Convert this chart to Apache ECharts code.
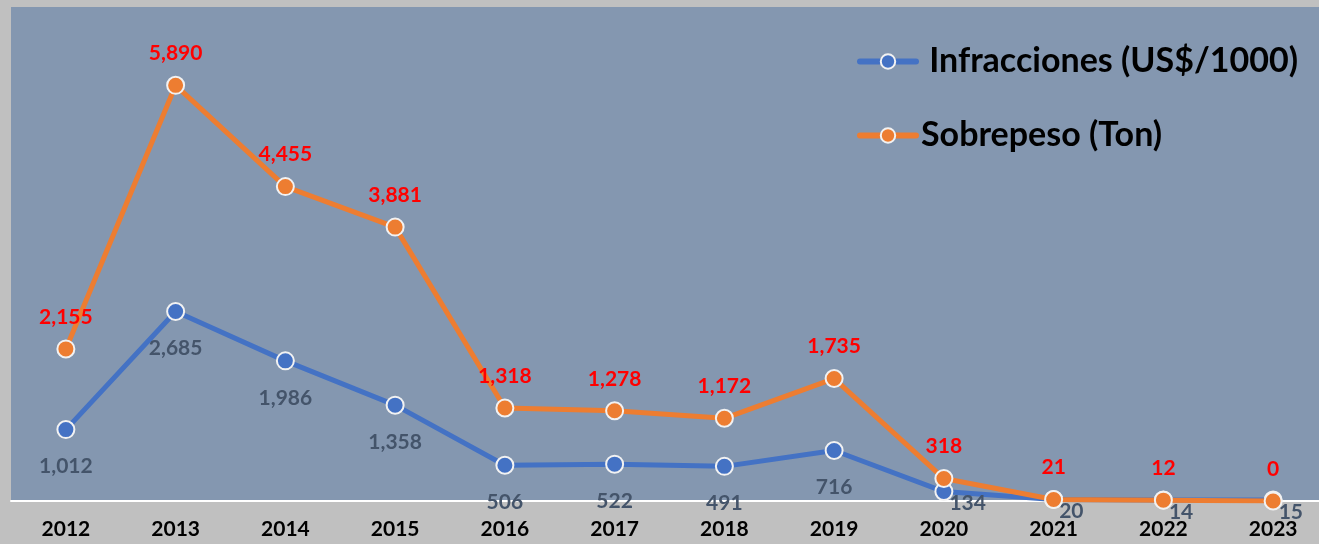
<!DOCTYPE html>
<html>
<head>
<meta charset="utf-8">
<script src="https://cdn.jsdelivr.net/npm/echarts@6/dist/echarts.min.js"></script>
<style>
  html, body { margin: 0; padding: 0; background: #c0c0c0; }
  #chart-container { width: 1319px; height: 544px; }
</style>
</head>
<body>
<div id="chart-container"></div>
<script>
// data
const years = ["2012", "2013", "2014", "2015", "2016", "2017", "2018", "2019", "2020", "2021", "2022", "2023"];
const infracciones = [1012, 2685, 1986, 1358, 506, 522, 491, 716, 134, 20, 14, 15];
const sobrepeso = [2155, 5890, 4455, 3881, 1318, 1278, 1172, 1735, 318, 21, 12, 0];

const FONT = "Lato";

const dom = document.getElementById("chart-container");
const myChart = echarts.init(dom, null, { renderer: "canvas" });

// the last blue labels sit to the right of the point, as in the original
const blueData = infracciones.map((v, i) => {
  if (i < 8) return v;
  return {
    value: v,
    label: { position: "right", distance: 0, offset: [-4, 12] }
  };
});

const option = {
  backgroundColor: "#c0c0c0",
  animation: false,
  grid: {
    left: 11,
    right: -9,
    top: 7,
    bottom: 43,
    outerBoundsMode: "none",
    containLabel: false,
    show: true,
    backgroundColor: "#8497b0",
    borderWidth: 0
  },
  legend: {
    orient: "vertical",
    left: 852,
    top: 36,
    itemWidth: 56,
    itemHeight: 18,
    itemGap: 34,
    itemGap: 33,
    lineStyle: { width: 6, cap: "round" },
    formatter: (name) => name.startsWith("Infr") ? " " + name : name,
    textStyle: {
      fontFamily: FONT,
      fontWeight: "bold",
      fontSize: 34,
      color: "#000",
      lineHeight: 41
    }
  },
  xAxis: {
    type: "category",
    data: years,
    boundaryGap: true,
    axisLine: { lineStyle: { color: "#ffffff", width: 2 } },
    axisTick: { show: false },
    axisLabel: {
      fontFamily: FONT,
      fontWeight: "bold",
      fontSize: 21,
      color: "#000",
      margin: 18
    }
  },
  yAxis: {
    type: "value",
    min: 0,
    max: 7000,
    show: false,
    splitLine: { show: false }
  },
  series: [
    {
      name: "Infracciones (US$/1000)",
      type: "line",
      data: blueData,
      symbol: "circle",
      symbolSize: 17,
      lineStyle: { color: "#4472c4", width: 5 },
      itemStyle: { color: "#4472c4", borderColor: "#f2f2f2", borderWidth: 2 },
      label: {
        show: true,
        position: "bottom",
        distance: 17,
        formatter: (p) => p.value.toLocaleString("en-US"),
        fontFamily: FONT,
        fontWeight: "bold",
        fontSize: 21,
        color: "#44546a"
      },
      z: 2
    },
    {
      name: "Sobrepeso (Ton)",
      type: "line",
      data: sobrepeso,
      symbol: "circle",
      symbolSize: 17,
      lineStyle: { color: "#ed7d31", width: 5 },
      itemStyle: { color: "#ed7d31", borderColor: "#f2f2f2", borderWidth: 2 },
      label: {
        show: true,
        position: "top",
        distance: 12,
        formatter: (p) => p.value.toLocaleString("en-US"),
        fontFamily: FONT,
        fontWeight: "bold",
        fontSize: 21,
        color: "#ff0000"
      },
      z: 3
    }
  ]
};

myChart.setOption(option);
window.addEventListener("resize", () => myChart.resize());
</script>
</body>
</html>
